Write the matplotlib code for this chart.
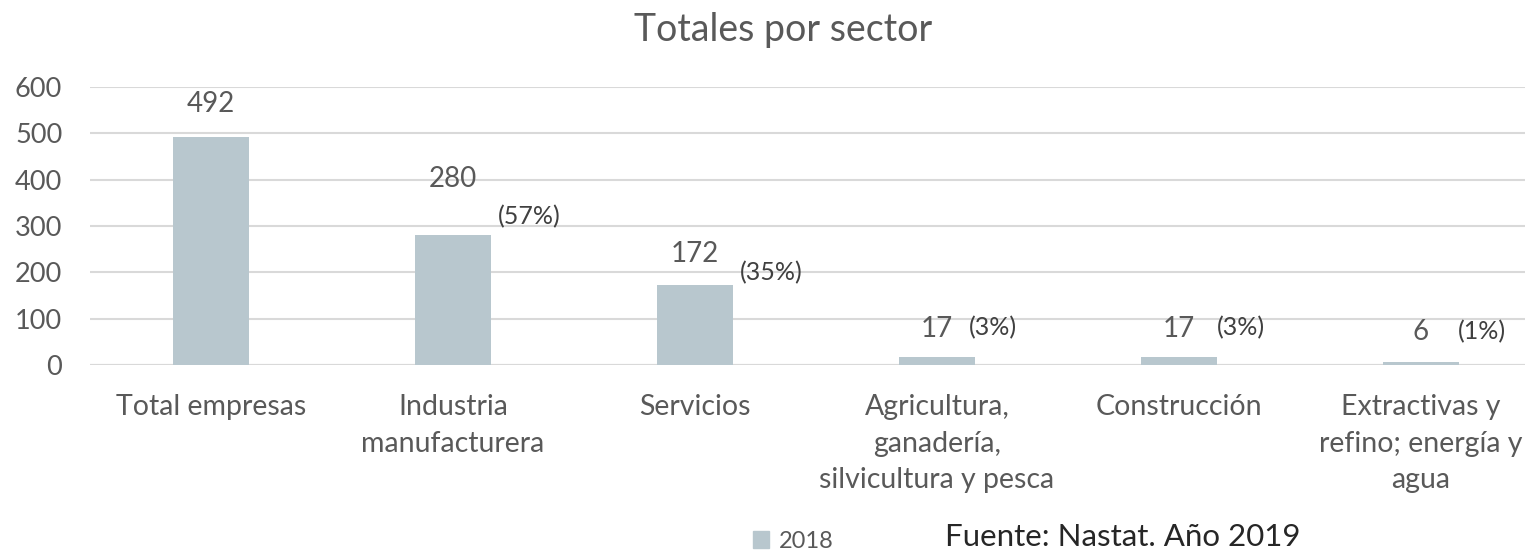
import matplotlib.pyplot as plt
from matplotlib.patches import Patch

sectores = ["Total empresas", "Industria\nmanufacturera", "Servicios",
            "Agricultura,\nganadería,\nsilvicultura y pesca", "Construcción",
            "Extractivas y\nrefino; energía y\nagua"]
valores = [492, 280, 172, 17, 17, 6]
porcentajes = ["", "(57%)", "(35%)", "(3%)", "(3%)", "(1%)"]

# label offsets in pixels (value label dy, pct label dx, pct label dy)
val_dy = [33, 56, 31, 28, 28, 30]
pct_dx = [0, 45, 45, 32, 38, 37]
pct_dy = [0, 19, 13, 29, 29, 31]

plt.rcParams['font.family'] = ['Lato', 'DejaVu Sans']
gris = "#595959"
barra = "#b8c7ce"

fig = plt.figure(figsize=(15.3, 5.53), dpi=100)
ax = fig.add_axes([90/1530, (553-365)/553, (1525-90)/1530, (365-87)/553])

x = list(range(len(sectores)))
ax.bar(x, valores, width=76/242, color=barra, zorder=3)
ax.set_xlim(-0.5, 5.43)
ax.set_ylim(0, 600)
ax.set_yticks(range(0, 601, 100))
ax.yaxis.grid(True, color="#d9d9d9", linewidth=1.5, zorder=0)
for s in ax.spines.values():
    s.set_visible(False)
ax.axhline(0, color="#d9d9d9", linewidth=1.5, zorder=2)
ax.tick_params(axis="both", length=0, labelsize=19.5, labelcolor=gris)
ax.tick_params(axis="y", pad=20)
ax.tick_params(axis="x", labelsize=20.5, pad=21)
ax.set_xticks(x)
ax.set_xticklabels(sectores, linespacing=1.5, va="top")

px = 0.72  # points per pixel
for i, v in enumerate(valores):
    ax.annotate(str(v), (i, v), xytext=(0, val_dy[i]*px), textcoords="offset points",
                ha="center", va="center", fontsize=20, color=gris)
    if porcentajes[i]:
        ax.annotate(porcentajes[i], (i, v), xytext=(pct_dx[i]*px, pct_dy[i]*px),
                    textcoords="offset points", ha="left", va="center",
                    fontsize=18, color="#404040")

fig.text(783/1530, 1-30/553, "Totales por sector", ha="center", va="center",
         fontsize=27, color=gris)

leg = fig.legend(handles=[Patch(color=barra, label="2018")], loc="center",
                 bbox_to_anchor=(793/1530, 1-541/553), frameon=False, fontsize=17,
                 handlelength=0.7, handleheight=0.7, handletextpad=0.4)
for t in leg.get_texts():
    t.set_color(gris)

fig.text(945/1530, 1-537/553, "Fuente: Nastat. Año 2019", ha="left", va="center",
         fontsize=22.5, color="#262626")

fig.savefig("out.png", dpi=100)
